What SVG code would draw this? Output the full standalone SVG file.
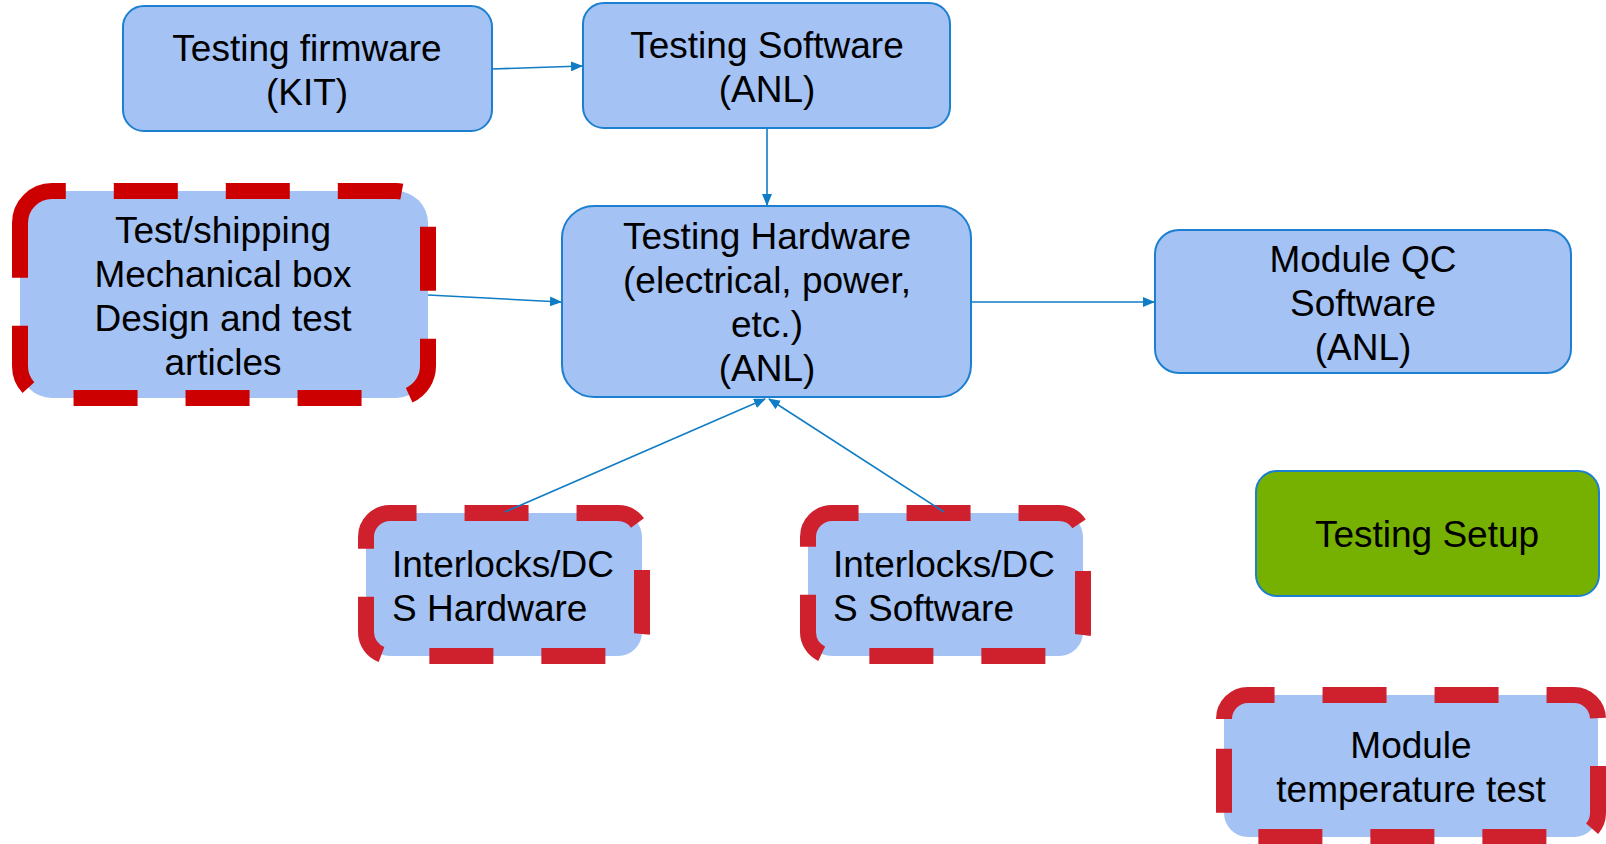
<svg xmlns="http://www.w3.org/2000/svg" width="1606" height="844" viewBox="0 0 1606 844">
<style>
.box{fill:#a4c2f4;stroke:#1c7fcf;stroke-width:2}
.fill{fill:#a4c2f4}
.green{fill:#76b000;stroke:#1c7fcf;stroke-width:2}
.red1{fill:none;stroke:#cc0000;stroke-width:16;stroke-dasharray:64 48}
.red2{fill:none;stroke:#cf202e;stroke-width:16;stroke-dasharray:64 48}
.t{font-family:"Liberation Sans",Arial,sans-serif;font-size:37px;fill:#000}
.c{text-anchor:middle}
.conn{stroke:#0f7cc5;stroke-width:1.6;fill:none;marker-end:url(#ah)}
</style>
<defs>
<marker id="ah" markerUnits="userSpaceOnUse" markerWidth="12" markerHeight="10" refX="11" refY="5" orient="auto">
<path d="M0,0 L12,5 L0,10 Z" fill="#0f7cc5"/>
</marker>
</defs>
<rect width="1606" height="844" fill="#fff"/>
<g id="firmware">
<rect class="box" x="123" y="6" width="369" height="125" rx="21"/>
<text class="t c" x="307" y="61">Testing firmware</text>
<text class="t c" x="307" y="105">(KIT)</text>
</g>
<g id="software">
<rect class="box" x="583" y="3" width="367" height="125" rx="21"/>
<text class="t c" x="767" y="58">Testing Software</text>
<text class="t c" x="767" y="102">(ANL)</text>
</g>
<g id="hardware">
<rect class="box" x="562" y="206" width="409" height="191" rx="32"/>
<text class="t c" x="767" y="249">Testing Hardware</text>
<text class="t c" x="767" y="293">(electrical, power,</text>
<text class="t c" x="767" y="337">etc.)</text>
<text class="t c" x="767" y="381">(ANL)</text>
</g>
<g id="moduleqc">
<rect class="box" x="1155" y="230" width="416" height="143" rx="24"/>
<text class="t c" x="1363" y="272">Module QC</text>
<text class="t c" x="1363" y="316">Software</text>
<text class="t c" x="1363" y="360">(ANL)</text>
</g>
<g id="setup">
<rect class="green" x="1256" y="471" width="343" height="125" rx="21"/>
<text class="t c" x="1427" y="547">Testing Setup</text>
</g>
<g id="shipping">
<rect class="fill" x="20" y="191" width="408" height="207" rx="32"/>
<path class="red1" d="M20,223 A32,32 0 0 1 52,191 H396 A32,32 0 0 1 428,223 V366 A32,32 0 0 1 396,398 H52 A32,32 0 0 1 20,366 Z"/>
<text class="t c" x="223" y="243">Test/shipping</text>
<text class="t c" x="223" y="287">Mechanical box</text>
<text class="t c" x="223" y="331">Design and test</text>
<text class="t c" x="223" y="375">articles</text>
</g>
<g id="dcs-hardware">
<rect class="fill" x="366" y="513" width="276" height="143" rx="24"/>
<path class="red2" d="M366,537 A24,24 0 0 1 390,513 H618 A24,24 0 0 1 642,537 V632 A24,24 0 0 1 618,656 H390 A24,24 0 0 1 366,632 Z"/>
<text class="t" x="392" y="577">Interlocks/DC</text>
<text class="t" x="392" y="621">S Hardware</text>
</g>
<g id="dcs-software">
<rect class="fill" x="808" y="513" width="275" height="143" rx="24"/>
<path class="red2" d="M808,537 A24,24 0 0 1 832,513 H1059 A24,24 0 0 1 1083,537 V632 A24,24 0 0 1 1059,656 H832 A24,24 0 0 1 808,632 Z"/>
<text class="t" x="833" y="577">Interlocks/DC</text>
<text class="t" x="833" y="621">S Software</text>
</g>
<g id="temperature">
<rect class="fill" x="1224" y="695" width="374" height="142" rx="24"/>
<path class="red2" d="M1224,719 A24,24 0 0 1 1248,695 H1574 A24,24 0 0 1 1598,719 V813 A24,24 0 0 1 1574,837 H1248 A24,24 0 0 1 1224,813 Z"/>
<text class="t c" x="1411" y="758">Module</text>
<text class="t c" x="1411" y="802">temperature test</text>
</g>
<g id="connectors">
<line class="conn" x1="492" y1="69" x2="582" y2="66"/>
<line class="conn" x1="767" y1="128" x2="767" y2="205"/>
<line class="conn" x1="428" y1="295" x2="561" y2="302"/>
<line class="conn" x1="971" y1="302" x2="1154" y2="302"/>
<line class="conn" x1="505" y1="512" x2="765" y2="399"/>
<line class="conn" x1="944" y1="512" x2="769" y2="399"/>
</g>
</svg>
